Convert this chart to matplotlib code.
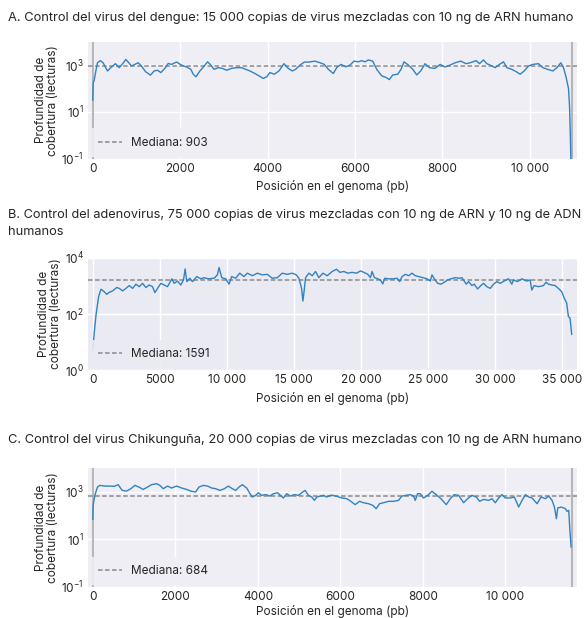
import numpy as np
import matplotlib
matplotlib.use('Agg')
import matplotlib.pyplot as plt
from matplotlib.ticker import FixedLocator, FuncFormatter, NullLocator, LogFormatterSciNotation

# ---------------- datos ----------------
# A. virus del dengue
dengue_pos = [0, 10, 30, 70, 107, 175, 236, 335, 412, 519,
              603, 672, 756, 824, 885, 961, 1038, 1114, 1206, 1320,
              1404, 1481, 1557, 1649, 1725, 1801, 1916, 2031, 2145, 2244,
              2298, 2359, 2451, 2550, 2626, 2703, 2771, 2871, 2962, 3062,
              3176, 3290, 3405, 3496, 3596, 3710, 3802, 3901, 3978, 4054,
              4153, 4260, 4374, 4473, 4565, 4641, 4741, 4840, 4947, 5085,
              5199, 5298, 5390, 5504, 5580, 5680, 5790, 5885, 5977, 6076,
              6153, 6229, 6306, 6405, 6497, 6611, 6710, 6786, 6863, 6977,
              7054, 7122, 7222, 7321, 7413, 7504, 7603, 7703, 7832, 7947,
              8061, 8176, 8290, 8420, 8542, 8634, 8771, 8848, 8939, 9016,
              9092, 9207, 9306, 9398, 9474, 9588, 9688, 9779, 9871, 9970,
              10069, 10199, 10298, 10405, 10527, 10619, 10710, 10771, 10832, 10886,
              10909, 10924, 10945]
dengue_depth = [32, 182, 214, 562, 1259, 1549, 1259, 562, 776, 1148,
                776, 1072, 1738, 1259, 912, 1072, 1259, 912, 525, 372,
                562, 603, 479, 724, 1175, 1072, 1349, 1000, 832, 661,
                407, 316, 562, 912, 1380, 1000, 661, 776, 724, 603,
                724, 776, 776, 661, 562, 437, 347, 269, 316, 479,
                407, 562, 1148, 724, 562, 661, 1000, 1349, 1349, 1479,
                1259, 1072, 661, 437, 776, 1072, 851, 1000, 1479, 1380,
                1549, 1380, 1660, 1479, 661, 347, 295, 240, 380, 407,
                661, 1380, 1000, 661, 380, 562, 1148, 776, 724, 1072,
                832, 1000, 1259, 1479, 1148, 1259, 1549, 1148, 1660, 1148,
                1000, 776, 1072, 1380, 776, 661, 525, 407, 562, 912,
                1072, 1148, 776, 661, 562, 776, 1259, 776, 295, 98,
                17, 1.8, 0.03]
dengue_len = 10970
dengue_median = 903

# B. adenovirus
adeno_pos = [0, 114, 238, 436, 610, 858, 1032, 1230, 1478, 1776,
             1975, 2222, 2470, 2718, 2966, 3214, 3462, 3710, 3958, 4206,
             4454, 4628, 4826, 5074, 5322, 5570, 5892, 6066, 6314, 6562,
             6761, 6885, 7009, 7232, 7430, 7753, 8050, 8298, 8620, 9042,
             9290, 9414, 9613, 9910, 10158, 10357, 10654, 10952, 11274, 11522,
             11894, 12266, 12638, 13010, 13382, 13754, 14126, 14498, 14870, 15168,
             15366, 15564, 15664, 15763, 15862, 16110, 16358, 16606, 16854, 17152,
             17474, 17846, 18168, 18416, 18714, 19012, 19335, 19657, 19955, 20203,
             20500, 20699, 20823, 20996, 21245, 21443, 21617, 21765, 22063, 22435,
             22683, 22881, 23055, 23303, 23551, 23799, 24047, 24295, 24617, 24915,
             25163, 25287, 25461, 25709, 25957, 26205, 26453, 26701, 27024, 27346,
             27520, 27693, 27842, 28016, 28264, 28437, 28685, 28933, 29131, 29379,
             29627, 29875, 30123, 30371, 30669, 30991, 31239, 31363, 31661, 31983,
             32355, 32603, 32727, 32901, 33223, 33595, 33794, 33967, 34215, 34463,
             34711, 34959, 35133, 35331, 35455, 35579, 35703]
adeno_depth = [5.2, 23, 91, 417, 759, 617, 501, 589, 661, 871,
               813, 661, 813, 1023, 813, 1148, 933, 1230, 871, 1072,
               933, 575, 813, 1230, 1072, 933, 1778, 1230, 1479, 1072,
               1622, 3981, 1413, 1862, 1413, 2138, 1778, 1950, 1778, 1862,
               2455, 4467, 1950, 1778, 1148, 2138, 1862, 2818, 2138, 2818,
               2291, 2818, 2455, 2570, 1862, 1950, 2818, 2570, 2818, 2455,
               1862, 813, 288, 708, 1950, 2818, 2291, 3236, 1950, 2818,
               2291, 3236, 3890, 3020, 3236, 2818, 3020, 2818, 3388, 3020,
               2570, 1950, 3236, 1950, 1778, 1622, 1175, 1862, 1778, 1778,
               1862, 1413, 2138, 2570, 2291, 2818, 2291, 2138, 1950, 1778,
               1479, 2455, 1778, 1230, 1148, 1349, 1622, 1778, 1950, 1862,
               1950, 1479, 1148, 1413, 1023, 1148, 776, 1023, 1230, 933,
               813, 1148, 1413, 1230, 1479, 1778, 1148, 1622, 1413, 1778,
               1479, 1622, 708, 1023, 933, 1023, 1349, 1148, 1072, 1023,
               813, 617, 380, 240, 81, 71, 19]
adeno_len = 35740
adeno_median = 1591

# C. virus Chikunguña
chik_pos = [0, 8, 49, 113, 170, 291, 413, 518, 615, 712,
            817, 922, 1019, 1116, 1222, 1327, 1424, 1545, 1626, 1707,
            1812, 1909, 2031, 2152, 2273, 2395, 2492, 2573, 2678, 2783,
            2880, 2977, 3083, 3188, 3285, 3382, 3463, 3544, 3625, 3730,
            3811, 3867, 3948, 4013, 4094, 4191, 4296, 4377, 4482, 4563,
            4620, 4700, 4781, 4887, 4984, 5065, 5145, 5226, 5307, 5372,
            5429, 5510, 5591, 5672, 5752, 5817, 5914, 6036, 6157, 6254,
            6359, 6464, 6561, 6683, 6788, 6869, 6950, 7047, 7168, 7290,
            7411, 7492, 7597, 7694, 7775, 7816, 7872, 7937, 8018, 8115,
            8220, 8325, 8438, 8568, 8665, 8762, 8867, 8988, 9085, 9190,
            9295, 9376, 9473, 9594, 9675, 9756, 9837, 9918, 9999, 10121,
            10218, 10323, 10404, 10485, 10566, 10647, 10768, 10865, 10970, 11051,
            11132, 11189, 11237, 11270, 11350, 11415, 11455, 11496, 11536, 11561,
            11593]
chik_depth = [69, 269, 708, 1585, 1862, 1738, 1738, 1698, 1995, 1148,
              1072, 1349, 1862, 1585, 1259, 1585, 1995, 2188, 1862, 1349,
              1738, 1445, 1738, 1445, 1259, 1047, 977, 1585, 1862, 1738,
              1445, 1349, 1148, 1349, 1738, 1349, 1148, 1585, 1995, 1445,
              832, 603, 708, 912, 708, 759, 661, 832, 912, 661,
              550, 832, 661, 759, 708, 912, 1148, 708, 603, 437,
              603, 661, 708, 603, 708, 708, 646, 550, 513, 398,
              288, 398, 347, 316, 269, 195, 316, 347, 398, 398,
              437, 661, 708, 759, 661, 437, 832, 832, 550, 708,
              1047, 759, 513, 288, 513, 759, 708, 347, 513, 708,
              603, 398, 479, 437, 513, 347, 550, 759, 550, 550,
              603, 229, 437, 759, 603, 550, 316, 603, 513, 661,
              437, 229, 74, 209, 229, 209, 195, 151, 166, 28,
              4.8]
chik_len = 11620
chik_median = 684

titles = ['A. Control del virus del dengue: 15 000 copias de virus mezcladas con 10 ng de ARN humano',
          'B. Control del adenovirus, 75 000 copias de virus mezcladas con 10 ng de ARN y 10 ng de ADN\nhumanos',
          'C. Control del virus Chikunguña, 20 000 copias de virus mezcladas con 10 ng de ARN humano']

# ---------------- estilo ----------------
plt.rcParams['font.family'] = ['Inter', 'DejaVu Sans']
W, H = 584, 618
fig = plt.figure(figsize=(W / 100, H / 100), dpi=100)

line_color = '#3282c1'
text_color = '#262626'


def px(x0, y_top, x1, y_bot):
    # rectángulo en píxeles -> fracciones de figura
    return [x0 / W, 1 - y_bot / H, (x1 - x0) / W, (y_bot - y_top) / H]


def thousands(v, pos=None):
    v = int(round(v))
    if abs(v) >= 10000:
        return f'{v:,}'.replace(',', ' ')
    return str(v)


def panel(rect, pos, depth, length, median, ylim, yticks, xticks, face,
          vlines=True, xlabelpad=4):
    ax = fig.add_axes(rect)
    ax.set_facecolor(face)
    for s in ax.spines.values():
        s.set_visible(False)
    ax.set_yscale('log')
    ax.set_ylim(*ylim)
    ax.set_xlim(-0.01 * length, 1.01 * length)
    ax.yaxis.set_major_locator(FixedLocator(yticks))
    ax.yaxis.set_minor_locator(NullLocator())
    ax.yaxis.set_major_formatter(LogFormatterSciNotation())
    ax.xaxis.set_major_locator(FixedLocator(xticks))
    ax.xaxis.set_major_formatter(FuncFormatter(thousands))
    ax.grid(True, color='white', linewidth=1.0, zorder=0)
    ax.set_axisbelow(True)
    ax.tick_params(length=0, labelsize=8.5, pad=3, labelcolor=text_color)
    if vlines:
        ax.axvline(0, color='#a8a8a8', linewidth=1.5, alpha=0.8, zorder=1)
        ax.axvline(length, color='#a8a8a8', linewidth=1.5, alpha=0.8, zorder=1)
    ax.plot(pos, depth, color=line_color, linewidth=1.0, zorder=3)
    ax.axhline(median, color='#8a8a8a', linestyle=(0, (3.0, 1.6)), linewidth=1.1,
               zorder=2, label=f'Mediana: {median}')
    leg = ax.legend(loc='lower left', fontsize=8.5, frameon=True, fancybox=False,
                    borderaxespad=0.15, handlelength=2.0, handletextpad=0.8,
                    borderpad=0.7)
    leg.get_frame().set_facecolor(face)
    leg.get_frame().set_edgecolor('none')
    leg.get_frame().set_alpha(0.9)
    for t in leg.get_texts():
        t.set_color(text_color)
    ax.set_xlabel('Posición en el genoma (pb)', fontsize=8.5, labelpad=xlabelpad, color=text_color)
    ax.set_ylabel('Profundidad de\ncobertura (lecturas)', fontsize=8.5, labelpad=2,
                  color=text_color, linespacing=1.0)
    return ax


axA = panel(px(88, 41.7, 577, 158.7), dengue_pos, dengue_depth, dengue_len, dengue_median,
            (0.1, 1e4), [1e-1, 1e1, 1e3], [0, 2000, 4000, 6000, 8000, 10000], '#eeeef4')
axB = panel(px(88, 257.7, 577, 370.3), adeno_pos, adeno_depth, adeno_len, adeno_median,
            (1, 1e4), [1e0, 1e2, 1e4], [0, 5000, 10000, 15000, 20000, 25000, 30000, 35000],
            '#eaeaf2', vlines=False)
axC = panel(px(88, 468, 577, 587), chik_pos, chik_depth, chik_len, chik_median,
            (0.1, 1e4), [1e-1, 1e1, 1e3], [0, 2000, 4000, 6000, 8000, 10000], '#eeeef4',
            xlabelpad=1.5)

fig.text(8 / W, 1 - 18 / H, titles[0], ha='left', va='center', fontsize=9.3, color=text_color)
fig.text(8 / W, 1 - 209 / H, titles[1], ha='left', va='top', fontsize=9.2, color=text_color,
         linespacing=1.55)
fig.text(8 / W, 1 - 440 / H, titles[2], ha='left', va='center', fontsize=9.3, color=text_color)

fig.savefig('out.png', dpi=100)
